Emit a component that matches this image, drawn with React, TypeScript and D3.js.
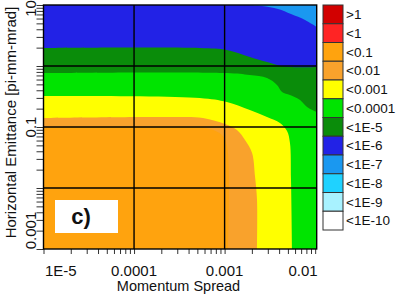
import React, { useRef, useEffect } from 'react';
import * as d3 from 'd3';

const W = 407;
const H = 302;
const FONT = 'Liberation Sans, Arial, sans-serif';

// plot frame in px
const plotLeft = 43.5;
const plotRight = 316.7;
const plotTop = 5;
const plotBottom = 249;

const xDomain = [1e-5, 0.0104];
const yDomain = [0.001, 10];

const xTickValues = [1e-5, 1e-4, 1e-3, 1e-2];
const xTickLabels = ['1E-5', '0.0001', '0.001', '0.01'];
const yTickValues = [10, 0.1, 0.001];
const yTickLabels = ['10', '0.1', '0.001'];
const xGrid = [1e-4, 1e-3];
const yGrid = [1, 0.1, 0.01];

const legendLabels = ['>1', '<1', '<0.1', '<0.01', '<0.001', '<0.0001', '<1E-5', '<1E-6', '<1E-7', '<1E-8', '<1E-9', '<1E-10'];
const legendColors = ['#d20000', '#ff2424', '#ffa30e', '#f9a22c', '#ffff00', '#00e400', '#0a8c0a', '#2222e6', '#1a98f0', '#1fd2ff', '#a8f2ff', '#ffffff'];

// contour boundaries [momentum spread, emittance].
// each one separates the level below/left from the level above/right
const edge1E7 = [[0.00177, 10], [0.00259, 9.63], [0.00389, 8.59], [0.00541, 7.11], [0.00773, 5.68], [0.0104, 4.36]];
const edge1E6 = [[1e-5, 1.97], [0.00053, 1.97], [0.00106, 1.83], [0.0019, 1.41], [0.00294, 1.16], [0.00379, 1.04], [0.00527, 0.964], [0.0104, 0.964]];
const edge1E5 = [[1e-5, 0.767], [0.00106, 0.767], [0.0019, 0.711], [0.00294, 0.635], [0.00379, 0.489], [0.00431, 0.375], [0.00527, 0.335], [0.00681, 0.277], [0.00813, 0.213], [0.0104, 0.176]];
const edge1E4 = [[1e-5, 0.322], [0.00053, 0.299], [0.00106, 0.257], [0.0019, 0.19], [0.00294, 0.146], [0.00409, 0.116], [0.00489, 0.0859], [0.00527, 0.0547], [0.00541, 0.0135], [0.00555, 0.001]];
const edge1E3 = [[1e-5, 0.141], [0.00025, 0.146], [0.000577, 0.141], [0.00101, 0.112], [0.00137, 0.0893], [0.00168, 0.0612], [0.00201, 0.0375], [0.00217, 0.0151], [0.00228, 0.00635], [0.00228, 0.001]];
const edge1E2 = [[1e-5, 0.1], [0.00042, 0.1], [0.00069, 0.0927], [0.000935, 0.0739], [0.00106, 0.0507], [0.00109, 0.001]];

// background level, then levels filled in order with their boundary
const backgroundLevel = '<1E-7';
const levels = [
  { label: '<1E-6', edge: edge1E7 },
  { label: '<1E-5', edge: edge1E6 },
  { label: '<0.0001', edge: edge1E5 },
  { label: '<0.001', edge: edge1E4 },
  { label: '<0.01', edge: edge1E3 },
  { label: '<0.1', edge: edge1E2 },
];

const colorOf = (label) => legendColors[legendLabels.indexOf(label)];

function App() {
  const svgRef = useRef();

  useEffect(() => {
    const x = d3.scaleLog().domain(xDomain).range([plotLeft, plotRight]);
    const y = d3.scaleLog().domain(yDomain).range([plotBottom, plotTop]);

    const svg = d3.select(svgRef.current);
    svg.selectAll('*').remove();

    // contour fills
    const fills = svg.append('g');
    fills.append('rect')
      .attr('x', plotLeft).attr('y', plotTop)
      .attr('width', plotRight - plotLeft).attr('height', plotBottom - plotTop)
      .attr('fill', colorOf(backgroundLevel));

    const edgeLine = d3.line()
      .x(d => x(d[0]))
      .y(d => y(d[1]))
      .curve(d3.curveCatmullRom.alpha(0.5));

    levels.forEach(lv => {
      const first = lv.edge[0];
      const last = lv.edge[lv.edge.length - 1];
      let d = edgeLine(lv.edge);
      if (first[1] >= yDomain[1]) {
        d = `M${x(xDomain[0])},${y(yDomain[1])}L` + d.slice(1);
      }
      if (last[0] >= xDomain[1]) {
        d += `L${x(xDomain[1])},${y(yDomain[0])}`;
      }
      d += `L${x(xDomain[0])},${y(yDomain[0])}Z`;
      fills.append('path').attr('d', d).attr('fill', colorOf(lv.label));
    });

    // grid
    const grid = svg.append('g').attr('stroke', '#000').attr('stroke-width', 1.4);
    xGrid.forEach(v => {
      grid.append('line').attr('x1', x(v)).attr('x2', x(v)).attr('y1', plotTop).attr('y2', plotBottom);
    });
    yGrid.forEach(v => {
      grid.append('line').attr('x1', plotLeft).attr('x2', plotRight).attr('y1', y(v)).attr('y2', y(v));
    });

    // minor/major ticks
    const minorX = [];
    for (let e = -5; e <= -2; e++) for (let k = 1; k <= 9; k++) {
      const v = k * Math.pow(10, e);
      if (v <= xDomain[1]) minorX.push(v);
    }
    const minorY = [];
    for (let e = -3; e <= 1; e++) for (let k = 1; k <= 9; k++) {
      const v = k * Math.pow(10, e);
      if (v <= yDomain[1]) minorY.push(v);
    }

    const xAxis = svg.append('g')
      .attr('transform', `translate(0,${plotBottom})`)
      .call(d3.axisBottom(x).tickValues(minorX).tickSize(5).tickFormat(() => ''));
    const yAxis = svg.append('g')
      .attr('transform', `translate(${plotLeft},0)`)
      .call(d3.axisLeft(y).tickValues(minorY).tickSize(7).tickFormat(() => ''));
    [xAxis, yAxis].forEach(a => {
      a.select('.domain').remove();
      a.selectAll('line').attr('stroke', '#333').attr('stroke-width', 1);
    });

    // frame
    svg.append('rect')
      .attr('x', plotLeft).attr('y', plotTop)
      .attr('width', plotRight - plotLeft).attr('height', plotBottom - plotTop)
      .attr('fill', 'none').attr('stroke', '#000').attr('stroke-width', 1.4);

    // x tick labels
    xTickValues.forEach((v, i) => {
      const anchor = i === 0 ? 'start' : (i === xTickValues.length - 1 ? 'end' : 'middle');
      const px = i === 0 ? x(v) + 1.5 : (i === xTickValues.length - 1 ? plotRight + 1 : x(v));
      svg.append('text')
        .attr('x', px).attr('y', 276)
        .attr('text-anchor', anchor)
        .attr('font-family', FONT).attr('font-size', 15)
        .attr('fill', '#111')
        .text(xTickLabels[i]);
    });

    // y tick labels (rotated)
    yTickValues.forEach((v, i) => {
      let cy = y(v);
      if (i === 0) cy = plotTop + 3.5;
      if (i === yTickValues.length - 1) cy = plotBottom - 18.5;
      svg.append('text')
        .attr('transform', `translate(35.5,${cy}) rotate(-90)`)
        .attr('text-anchor', 'middle')
        .attr('font-family', FONT).attr('font-size', 15)
        .attr('fill', '#111')
        .text(yTickLabels[i]);
    });

    // axis titles
    svg.append('text')
      .attr('x', 178.5).attr('y', 290.5)
      .attr('text-anchor', 'middle')
      .attr('font-family', FONT).attr('font-size', 14.5)
      .attr('fill', '#111')
      .text('Momentum Spread');
    svg.append('text')
      .attr('transform', 'translate(16,122.5) rotate(-90)')
      .attr('text-anchor', 'middle')
      .attr('font-family', FONT).attr('font-size', 15)
      .attr('fill', '#111')
      .text('Horizontal Emittance [pi-mm-mrad]');

    // panel tag
    svg.append('rect')
      .attr('x', 55).attr('y', 200).attr('width', 63).attr('height', 33)
      .attr('fill', '#fff');
    svg.append('text')
      .attr('x', 81).attr('y', 224)
      .attr('text-anchor', 'middle')
      .attr('font-family', FONT).attr('font-size', 22).attr('font-weight', 'bold')
      .attr('fill', '#111')
      .text('c)');

    // legend
    const boxH = 18.75;
    const legend = svg.append('g');
    legendLabels.forEach((lab, i) => {
      legend.append('rect')
        .attr('x', 323).attr('y', 5 + i * boxH)
        .attr('width', 20).attr('height', boxH)
        .attr('fill', legendColors[i])
        .attr('stroke', '#333').attr('stroke-width', 1);
      legend.append('text')
        .attr('x', 346).attr('y', 5 + i * boxH + boxH / 2)
        .attr('dy', '0.36em')
        .attr('font-family', FONT).attr('font-size', 13.5)
        .attr('fill', '#111')
        .text(lab);
    });
  });

  return (
    <div style={{ position: 'absolute', left: 0, top: 0 }}>
      <svg ref={svgRef} width={W} height={H} style={{ display: 'block', background: '#fff' }}></svg>
    </div>
  );
}

export default App;
